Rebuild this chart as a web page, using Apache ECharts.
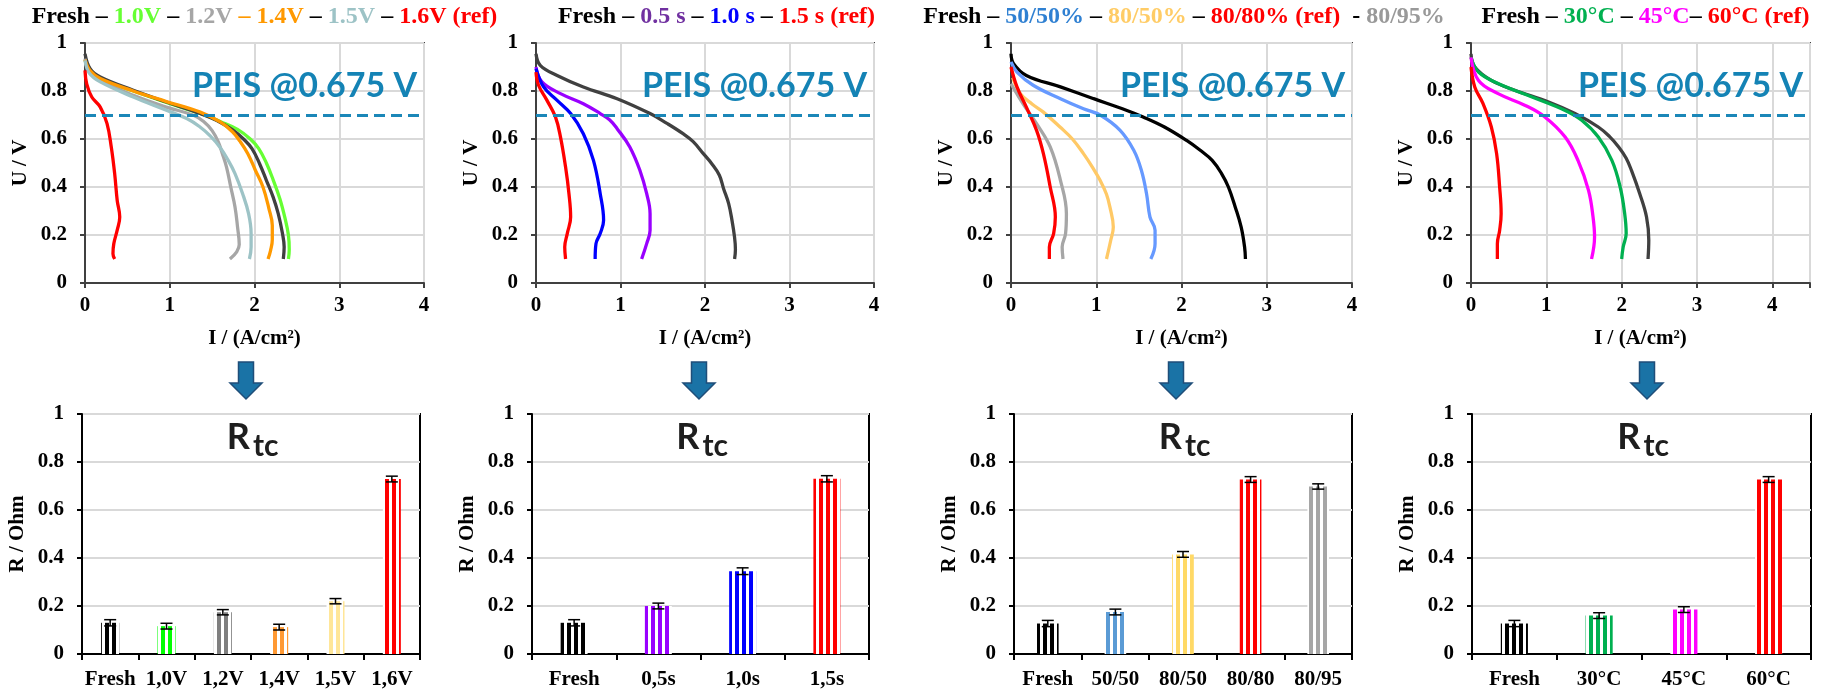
<!DOCTYPE html>
<html><head><meta charset="utf-8">
<script src="https://cdn.jsdelivr.net/npm/echarts@6/dist/echarts.min.js"></script>
<style>html,body{margin:0;padding:0;background:#fff}#c{width:1825px;height:693px}</style>
</head><body><div id="c"></div>
<script>
// ---------- DATA ----------
// Panel 1 : polarisation curves [I (A/cm2), U (V)]
const p1Fresh = [[0,0.955],[0.06,0.893],[0.18,0.858],[0.57,0.803],[0.96,0.754],[1.36,0.706],[1.55,0.678],[1.75,0.636],[1.87,0.60],[1.97,0.56],[2.06,0.497],[2.14,0.428],[2.22,0.358],[2.28,0.289],[2.33,0.206],[2.35,0.15],[2.34,0.10]];
const p1V10 = [[0,0.93],[0.06,0.885],[0.18,0.85],[0.57,0.80],[0.96,0.752],[1.36,0.706],[1.60,0.672],[1.80,0.64],[1.95,0.60],[2.05,0.56],[2.14,0.50],[2.22,0.43],[2.30,0.35],[2.36,0.27],[2.40,0.20],[2.41,0.14],[2.40,0.10]];
const p1V12 = [[0,0.935],[0.05,0.88],[0.18,0.844],[0.57,0.782],[0.96,0.733],[1.28,0.699],[1.40,0.673],[1.50,0.635],[1.57,0.59],[1.62,0.54],[1.67,0.483],[1.72,0.40],[1.77,0.317],[1.80,0.233],[1.82,0.16],[1.79,0.13],[1.71,0.10]];
const p1V14 = [[0,0.93],[0.06,0.885],[0.18,0.852],[0.57,0.80],[0.96,0.756],[1.36,0.712],[1.60,0.67],[1.74,0.63],[1.83,0.59],[1.92,0.54],[2.01,0.47],[2.10,0.40],[2.17,0.31],[2.21,0.24],[2.21,0.18],[2.19,0.136],[2.16,0.10]];
const p1V15 = [[0,0.928],[0.05,0.875],[0.18,0.838],[0.57,0.775],[0.96,0.72],[1.20,0.685],[1.35,0.652],[1.48,0.612],[1.59,0.567],[1.69,0.511],[1.77,0.456],[1.86,0.372],[1.93,0.289],[1.96,0.206],[1.96,0.15],[1.94,0.10]];
const p1V16 = [[0,0.886],[0.02,0.83],[0.08,0.775],[0.18,0.733],[0.26,0.664],[0.31,0.567],[0.35,0.456],[0.38,0.344],[0.41,0.275],[0.38,0.22],[0.34,0.164],[0.33,0.122],[0.35,0.10]];
// Panel 2
const p2Fresh = [[0,0.955],[0.05,0.907],[0.25,0.865],[0.56,0.817],[0.96,0.768],[1.35,0.706],[1.55,0.665],[1.74,0.622],[1.86,0.589],[1.98,0.539],[2.08,0.497],[2.17,0.449],[2.22,0.393],[2.28,0.331],[2.32,0.26],[2.35,0.19],[2.36,0.14],[2.35,0.10]];
const p2S05 = [[0,0.90],[0.07,0.838],[0.29,0.789],[0.56,0.747],[0.76,0.706],[0.87,0.68],[0.96,0.643],[1.11,0.567],[1.23,0.469],[1.31,0.372],[1.35,0.289],[1.35,0.22],[1.31,0.164],[1.25,0.10]];
const p2S10 = [[0,0.893],[0.09,0.817],[0.25,0.761],[0.41,0.706],[0.56,0.622],[0.68,0.511],[0.76,0.372],[0.80,0.261],[0.76,0.206],[0.71,0.164],[0.70,0.10]];
const p2S15 = [[0,0.879],[0.03,0.824],[0.13,0.761],[0.23,0.692],[0.29,0.608],[0.35,0.483],[0.39,0.372],[0.41,0.275],[0.37,0.206],[0.34,0.15],[0.35,0.10]];
// Panel 3
const p3Fresh = [[0,0.955],[0.03,0.914],[0.18,0.865],[0.58,0.817],[0.97,0.768],[1.36,0.719],[1.55,0.692],[1.80,0.65],[2.06,0.594],[2.22,0.553],[2.36,0.511],[2.47,0.456],[2.55,0.40],[2.63,0.317],[2.70,0.233],[2.74,0.15],[2.75,0.10]];
const p3H5050 = [[0,0.921],[0.07,0.879],[0.26,0.824],[0.58,0.768],[0.85,0.726],[1.05,0.699],[1.28,0.636],[1.44,0.553],[1.53,0.469],[1.59,0.372],[1.63,0.275],[1.69,0.22],[1.69,0.164],[1.64,0.10]];
const p3H8050 = [[0.02,0.855],[0.11,0.789],[0.25,0.745],[0.38,0.712],[0.575,0.65],[0.72,0.60],[0.85,0.539],[0.96,0.48],[1.045,0.428],[1.12,0.37],[1.16,0.317],[1.20,0.233],[1.17,0.178],[1.12,0.10]];
const p3H8080 = [[0,0.90],[0.07,0.817],[0.18,0.733],[0.30,0.636],[0.38,0.539],[0.46,0.40],[0.52,0.275],[0.50,0.206],[0.45,0.15],[0.45,0.10]];
const p3H8095 = [[0,0.83],[0.14,0.747],[0.30,0.664],[0.46,0.567],[0.58,0.428],[0.65,0.289],[0.64,0.206],[0.60,0.15],[0.61,0.10]];
// Panel 4
const p4Fresh = [[0,0.955],[0.05,0.90],[0.27,0.844],[0.58,0.803],[1.03,0.754],[1.38,0.706],[1.69,0.65],[1.84,0.61],[1.96,0.567],[2.06,0.52],[2.13,0.469],[2.24,0.372],[2.33,0.275],[2.36,0.178],[2.35,0.10]];
const p4T30 = [[0,0.94],[0.10,0.879],[0.36,0.831],[0.81,0.775],[1.25,0.719],[1.47,0.678],[1.69,0.608],[1.87,0.511],[1.98,0.40],[2.04,0.289],[2.06,0.206],[2.02,0.15],[2.00,0.10]];
const p4T45 = [[0,0.94],[0.10,0.844],[0.36,0.789],[0.72,0.74],[0.98,0.692],[1.25,0.608],[1.42,0.511],[1.56,0.386],[1.62,0.275],[1.64,0.192],[1.60,0.10]];
const p4T60 = [[0,0.90],[0.05,0.817],[0.16,0.747],[0.27,0.65],[0.34,0.539],[0.38,0.40],[0.40,0.289],[0.38,0.219],[0.35,0.164],[0.35,0.10]];
const peisVoltage = 0.7;

// Bar panels: Rtc (Ohm) with error
const b1Cats = ['Fresh','1,0V','1,2V','1,4V','1,5V','1,6V'];
const b1Vals = [0.13,0.116,0.174,0.112,0.22,0.729];
const b1Errs = [0.013,0.012,0.011,0.012,0.011,0.012];
const b2Cats = ['Fresh','0,5s','1,0s','1,5s'];
const b2Vals = [0.13,0.20,0.345,0.73];
const b2Errs = [0.013,0.012,0.014,0.013];
const b3Cats = ['Fresh','50/50','80/50','80/80','80/95'];
const b3Vals = [0.127,0.175,0.415,0.727,0.698];
const b3Errs = [0.013,0.012,0.012,0.012,0.011];
const b4Cats = ['Fresh','30°C','45°C','60°C'];
const b4Vals = [0.127,0.16,0.185,0.727];
const b4Errs = [0.013,0.012,0.012,0.012];

// ---------- STYLE / LAYOUT ----------
const SERIF = '"Liberation Serif","Times New Roman",serif';
const SANS = 'Lato, "Open Sans", sans-serif';
const lab = {fontFamily: SERIF, fontWeight: 'bold', fontSize: 21, color: '#000'};
const topG = [{l:85,w:339,xmax:4},{l:536,w:338,xmax:4},{l:1011,w:341,xmax:4},{l:1471,w:339,xmax:4.5}];
const botG = [{l:82,w:338},{l:532,w:337},{l:1014,w:338},{l:1472,w:339}];

const topCurves = [
  [[p1V10,'#66FF33'],[p1Fresh,'#404040'],[p1V12,'#A6A6A6'],[p1V14,'#FF9900'],[p1V15,'#9DC3C6'],[p1V16,'#FF0000']],
  [[p2Fresh,'#404040'],[p2S05,'#9900FF'],[p2S10,'#0000FF'],[p2S15,'#FF0000']],
  [[p3Fresh,'#000000'],[p3H5050,'#6699FF'],[p3H8050,'#FFC966'],[p3H8095,'#A6A6A6'],[p3H8080,'#FF0000']],
  [[p4Fresh,'#404040'],[p4T30,'#00B050'],[p4T45,'#FF00FF'],[p4T60,'#FF0000']]
];
const bars = [
  [b1Cats,b1Vals,b1Errs,['#000000','#00FF00','#7F7F7F','#FF9933','#FFE699','#FF0000']],
  [b2Cats,b2Vals,b2Errs,['#000000','#9900FF','#0000FF','#FF0000']],
  [b3Cats,b3Vals,b3Errs,['#000000','#5B9BD5','#FFD966','#FF0000','#A6A6A6']],
  [b4Cats,b4Vals,b4Errs,['#000000','#00B050','#FF00FF','#FF0000']]
];

function stripe(c){
  const cv = document.createElement('canvas'); cv.width = 7; cv.height = 4;
  const g = cv.getContext('2d');
  g.fillStyle = '#fff'; g.fillRect(0,0,7,4);
  g.fillStyle = c; g.fillRect(0,0,4,4);
  return {image: cv, repeat: 'repeat'};
}

const grids = [], xAxes = [], yAxes = [], series = [], graphics = [];
topG.forEach((g,i)=>{
  grids.push({left:g.l, top:43, width:g.w, height:240, show:true, borderColor:'#404040', borderWidth:2});
  xAxes.push({type:'value', gridIndex:i, min:0, max:g.xmax, interval:1,
    name:'I / (A/cm²)', nameLocation:'middle', nameGap:45, nameTextStyle:lab,
    axisLine:{lineStyle:{color:'#404040', width:2}},
    axisTick:{show:true, length:5, lineStyle:{color:'#404040', width:2}},
    axisLabel:Object.assign({margin:12, formatter:v=> (Math.abs(v-Math.round(v))<1e-9 ? String(v) : '')}, lab),
    splitLine:{lineStyle:{color:'#D9D9D9', width:2}}});
  yAxes.push({type:'value', gridIndex:i, min:0, max:1, interval:0.2,
    name:'U / V', nameLocation:'middle', nameGap:54, nameTextStyle:lab,
    axisLine:{show:true, lineStyle:{color:'#404040', width:2}},
    axisTick:{show:true, length:5, lineStyle:{color:'#404040', width:2}},
    axisLabel:Object.assign({margin:18}, lab),
    splitLine:{lineStyle:{color:'#D9D9D9', width:2}}});
  topCurves[i].forEach(([d,c],k)=>{
    const s = {type:'line', xAxisIndex:i, yAxisIndex:i, data:d, showSymbol:false, smooth:0.4,
      lineStyle:{color:c, width:3.3}, itemStyle:{color:c}, z:2+k, silent:true};
    if(k===0){
      s.markLine = {silent:true, symbol:'none', label:{show:false}, z:20,
        lineStyle:{color:'#1B87B8', width:3, type:[11,6]}, data:[{yAxis:peisVoltage}]};
    }
    series.push(s);
  });
  graphics.push({type:'text', x:g.l+g.w-7, y:86, z:50, style:{text:'PEIS @0.675 V', align:'right', verticalAlign:'middle',
    fontFamily:SANS, fontWeight:'bold', fontSize:34, fill:'#1483B5'}});
});
botG.forEach((g,j)=>{
  const i = j+4;
  const [cats,vals,errs,cols] = bars[j];
  grids.push({left:g.l, top:414, width:g.w, height:240, show:true, borderColor:'#000', borderWidth:2});
  xAxes.push({type:'category', gridIndex:i, data:cats, boundaryGap:true,
    axisLine:{lineStyle:{color:'#000', width:2}},
    axisTick:{show:true, length:6, lineStyle:{color:'#000', width:2}},
    axisLabel:Object.assign({margin:15, interval:0}, lab), splitLine:{show:false}});
  yAxes.push({type:'value', gridIndex:i, min:0, max:1, interval:0.2,
    name:'R / Ohm', nameLocation:'middle', nameGap:54, nameTextStyle:lab,
    axisLine:{show:true, lineStyle:{color:'#000', width:2}},
    axisTick:{show:true, length:5, lineStyle:{color:'#000', width:2}},
    axisLabel:Object.assign({margin:18}, lab),
    splitLine:{lineStyle:{color:'#D9D9D9', width:2}}});
  series.push({type:'bar', xAxisIndex:i, yAxisIndex:i, barWidth:'32%', silent:true,
    data: vals.map((v,k)=>({value:v, itemStyle:{color:stripe(cols[k])}}))});
  series.push({type:'custom', xAxisIndex:i, yAxisIndex:i, z:10, silent:true,
    data: vals.map((v,k)=>[k, v-errs[k], v+errs[k]]),
    renderItem:(params, api)=>{
      const lo = api.coord([api.value(0), api.value(1)]);
      const hi = api.coord([api.value(0), api.value(2)]);
      const w = 6, st = {stroke:'#000', lineWidth:1.5};
      return {type:'group', children:[
        {type:'line', shape:{x1:lo[0],y1:lo[1],x2:hi[0],y2:hi[1]}, style:st},
        {type:'line', shape:{x1:lo[0]-w,y1:lo[1],x2:lo[0]+w,y2:lo[1]}, style:st},
        {type:'line', shape:{x1:hi[0]-w,y1:hi[1],x2:hi[0]+w,y2:hi[1]}, style:st}
      ]};
    }});
  const cx = g.l + g.w/2;
  graphics.push({type:'text', x:cx-1, y:437, z:50, style:{text:'R', align:'right', verticalAlign:'middle',
    fontFamily:SANS, fontWeight:'bold', fontSize:36, fill:'#1E1E1E'}});
  graphics.push({type:'text', x:cx+2, y:446, z:50, style:{text:'tc', align:'left', verticalAlign:'middle',
    fontFamily:SANS, fontWeight:'bold', fontSize:30, fill:'#1E1E1E'}});
});
// arrows
[246, 699, 1176, 1647].forEach(cx=>{
  graphics.push({type:'polygon', z:50, shape:{points:[[cx-7.5,362],[cx+7.5,362],[cx+7.5,383],[cx+16,383],[cx,399],[cx-16,383],[cx-7.5,383]]},
    style:{fill:'#1A73A6', stroke:'#1F4E79', lineWidth:1.5}});
});

function rs(c){ return {color:c, fontFamily:SERIF, fontWeight:'bold', fontSize:24}; }
const rich = {k:rs('#000'), g:rs('#66FF33'), s:rs('#A6A6A6'), o:rs('#FF9900'), t:rs('#9DC3C6'), r:rs('#FF0000'),
  p:rs('#7030A0'), b:rs('#0000FF'), u:rs('#2F80D2'), y:rs('#FFCC66'), e:rs('#999999'), n:rs('#00B050'), m:rs('#FF00FF')};
const titles = [
  {x:264.5, text:'{k|Fresh – }{g|1.0V}{k| – }{s|1.2V}{o| – 1.4V}{k| – }{t|1.5V}{k| – }{r|1.6V (ref)}'},
  {x:716.5, text:'{k|Fresh – }{p|0.5 s}{k| – }{b|1.0 s}{k| – }{r|1.5 s (ref)}'},
  {x:1184, text:'{k|Fresh – }{u|50/50%}{k| – }{y|80/50%}{k| – }{r|80/80% (ref)}{k|  - }{e|80/95%}'},
  {x:1645.5, text:'{k|Fresh – }{n|30°C}{k| – }{m|45°C}{k|– }{r|60°C (ref)}'}
].map(t=>({left:t.x, top:5, textAlign:'center', padding:0, text:t.text, textStyle:{rich:rich, fontFamily:SERIF, fontWeight:'bold', fontSize:24}}));

const chart = echarts.init(document.getElementById('c'), null, {renderer:'canvas'});
chart.setOption({
  animation:false, backgroundColor:'#fff',
  title:titles, grid:grids, xAxis:xAxes, yAxis:yAxes, series:series, graphic:graphics
});
</script></body></html>
